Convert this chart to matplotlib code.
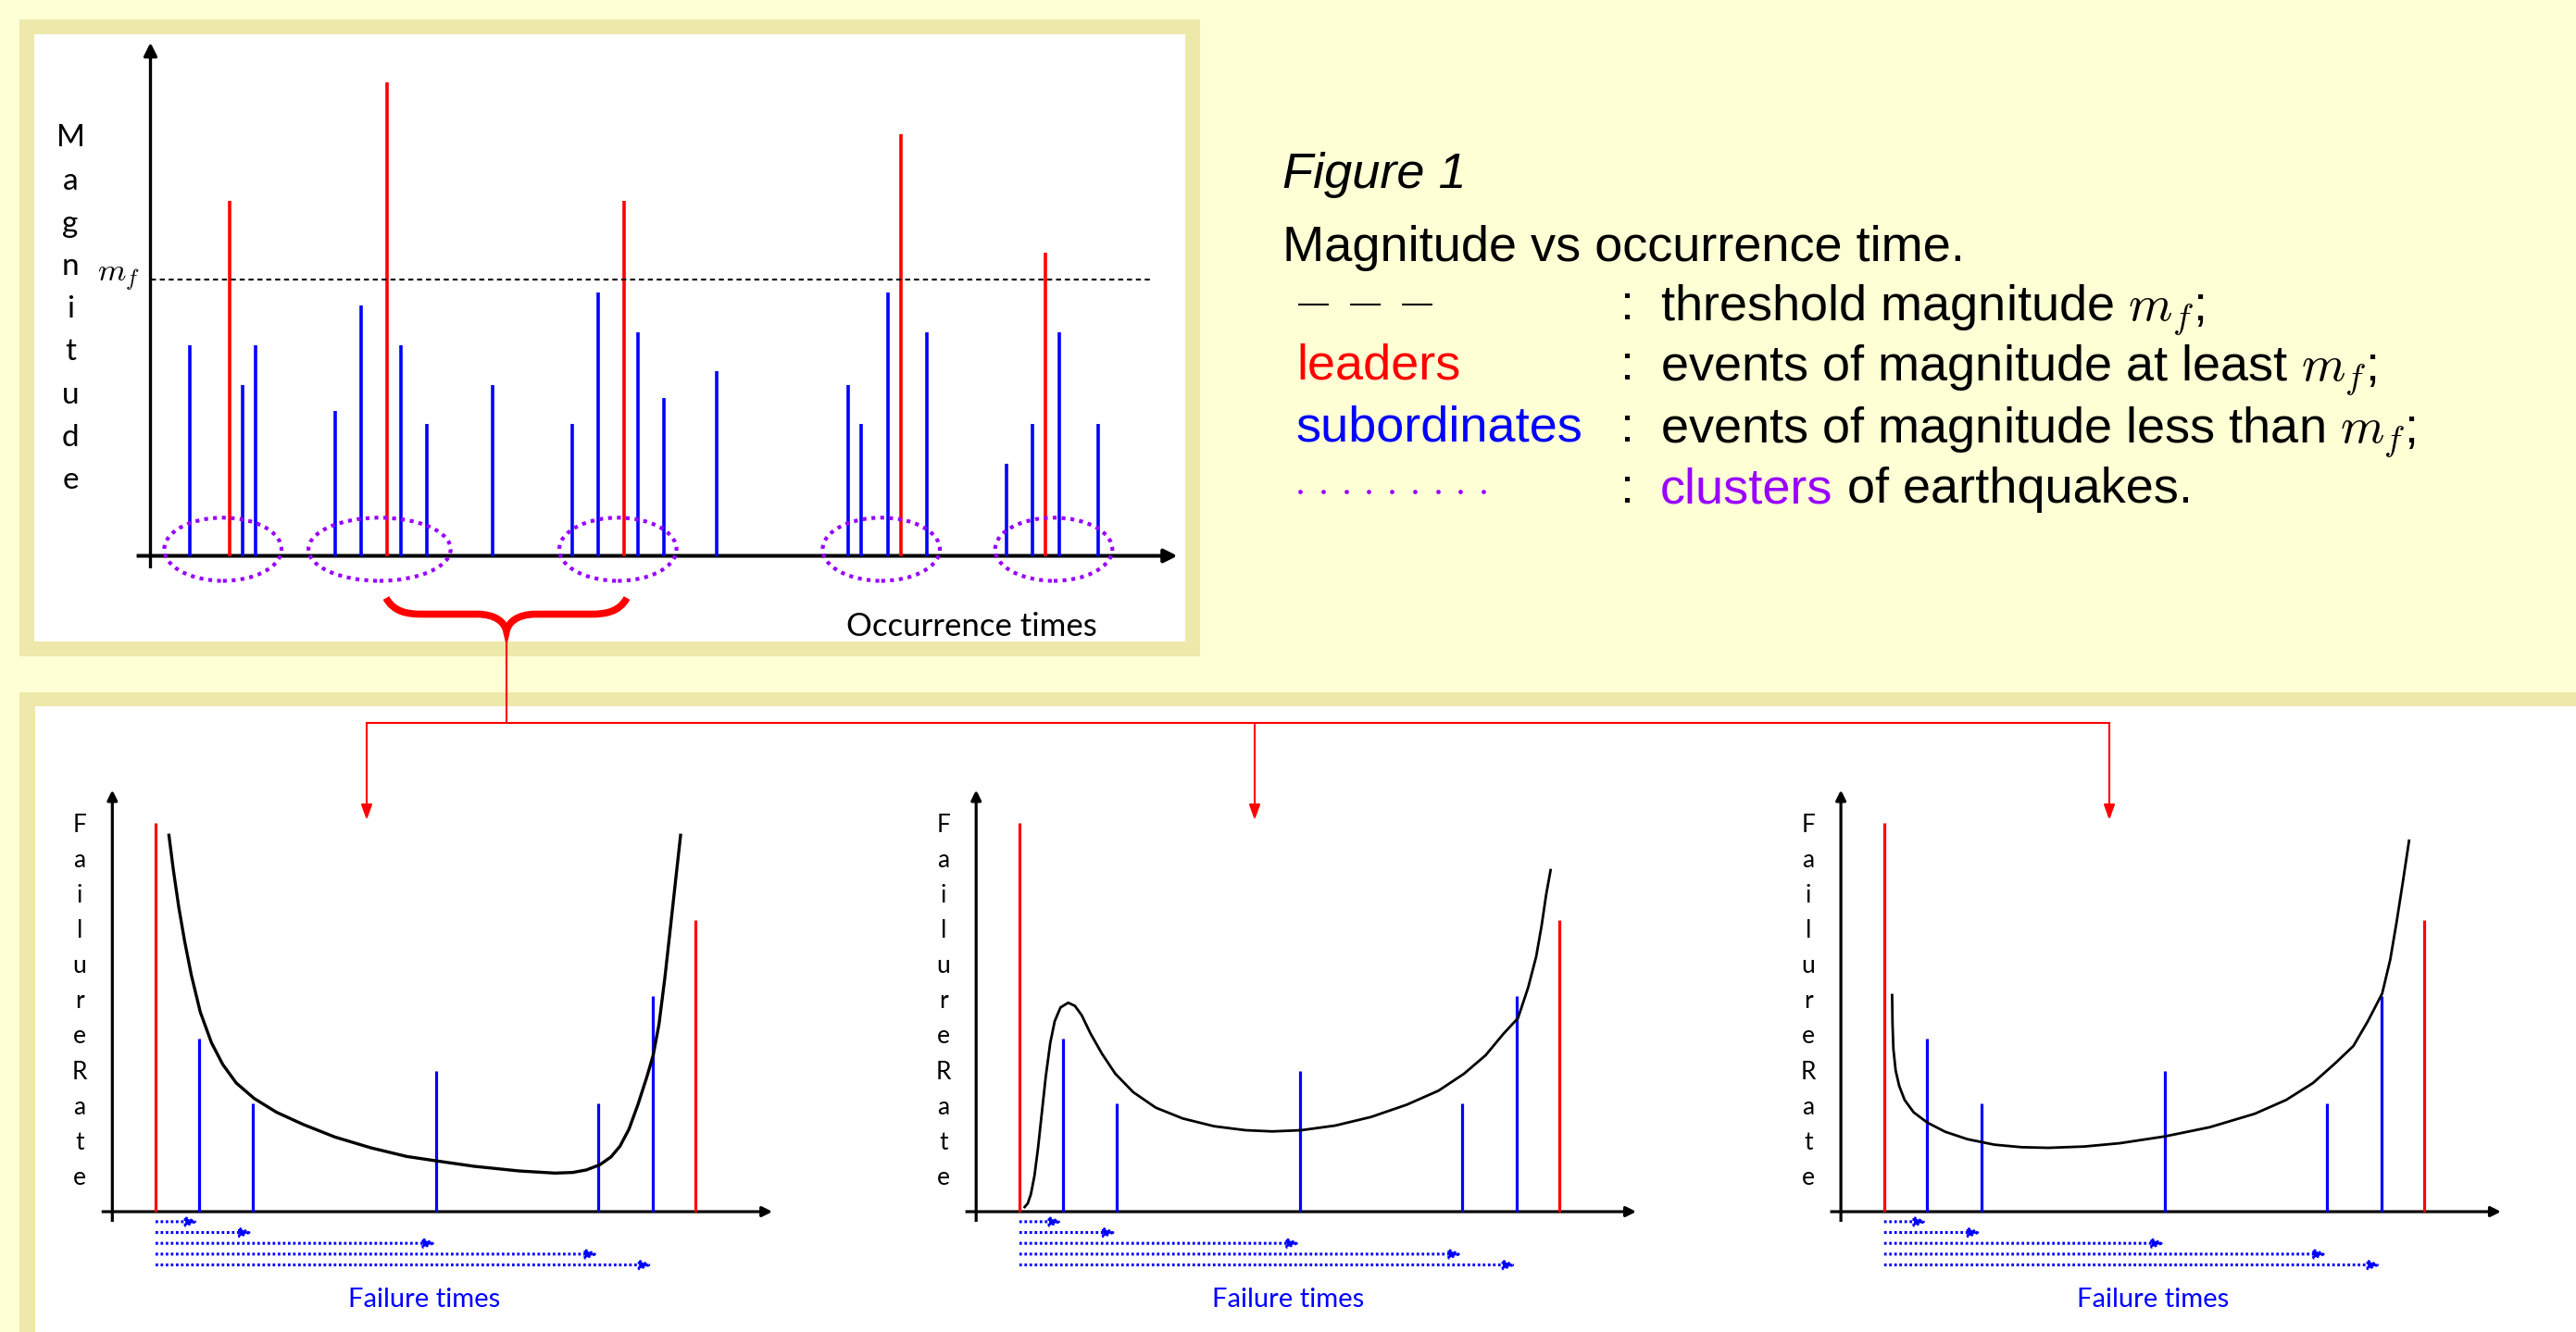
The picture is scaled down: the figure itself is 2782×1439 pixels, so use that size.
#!/usr/bin/env python
import numpy as np
import matplotlib.pyplot as plt
from matplotlib.patches import Rectangle, Ellipse, PathPatch, FancyArrowPatch
from matplotlib.path import Path

plt.rcParams['mathtext.fontset'] = 'cm'

W, H, DPI = 2782, 1439, 100

BG = '#ffffd5'
FRAME = '#eee8aa'
RED = '#ff0000'
BLUE = '#0000ff'
PURPLE = '#9900ff'
SANS = 'Liberation Sans'
CALIBRI = 'Lato'

# top chart: events on the occurrence time axis
occ_times = [3, 6, 7, 8, 14, 16, 18, 19, 21, 26, 32, 34, 36, 37, 39, 43,
             53, 54, 56, 57, 59, 65, 67, 68, 69, 72]
magnitudes = [16, 27, 13, 16, 11, 19, 36, 16, 10, 13, 10, 20, 27, 17, 12, 14,
              13, 10, 20, 32, 17, 7, 10, 23, 17, 10]
threshold = 21
cluster_centers = [5.5, 17.4, 35.5, 55.5, 68.6]
cluster_widths = [8.9, 10.8, 8.9, 8.9, 8.9]

# bottom charts: one cluster seen as a failure process
fail_times = [4, 8, 13, 30, 45, 50, 54]
fail_mags = [36, 16, 10, 13, 10, 20, 27]

# failure rate curves
rate1_t = [5.24, 5.65, 6.15, 6.69, 7.31, 8.14, 9.18, 10.22, 11.47, 13.13, 15.20,
           17.70, 20.60, 23.93, 27.25, 30.07, 33.48, 37.63, 40.95, 42.61, 43.86,
           45.11, 46.14, 46.98, 47.81, 48.64, 49.47, 50.05, 50.59, 51.13, 51.67,
           52.17, 52.59]
rate1_v = [34.85, 31.62, 28.19, 25.05, 21.91, 18.48, 15.63, 13.63, 11.91, 10.48, 9.20,
           8.06, 6.91, 5.91, 5.11, 4.69, 4.20, 3.77, 3.57, 3.63, 3.86,
           4.34, 5.06, 6.06, 7.63, 9.91, 12.48, 14.48, 17.34, 21.62, 26.48,
           31.05, 34.85]
rate2_t = [4.49, 4.78, 5.07, 5.40, 5.73, 6.07, 6.44, 6.86, 7.27, 7.81, 8.52, 9.14,
           9.76, 10.59, 11.64, 12.88, 14.54, 16.62, 19.11, 22.01, 24.93, 27.41,
           30.08, 33.23, 36.56, 39.87, 42.79, 45.15, 47.15, 48.81, 50.14, 51.09,
           51.83, 52.33, 52.75, 53.16]
rate2_v = [0.43, 0.77, 1.63, 3.34, 5.91, 9.06, 12.48, 15.63, 17.63, 18.91, 19.34, 19.05,
           18.20, 16.48, 14.63, 12.77, 11.06, 9.63, 8.63, 7.91, 7.54, 7.43,
           7.54, 7.97, 8.77, 9.91, 11.20, 12.77, 14.48, 16.48, 17.91, 20.77,
           23.62, 26.48, 29.34, 31.62]
rate3_t = [4.74, 4.78, 4.86, 5.07, 5.40, 5.90, 6.73, 7.98, 9.64, 11.71, 14.21, 16.70,
           19.19, 22.51, 25.84, 29.99, 34.14, 38.29, 41.20, 43.69, 45.78, 47.43,
           48.76, 50.09, 50.84, 51.42, 52.00, 52.58]
rate3_v = [20.05, 17.34, 15.05, 13.05, 11.63, 10.34, 9.20, 8.26, 7.40, 6.71, 6.20, 5.97,
           5.91, 6.03, 6.34, 6.97, 7.82, 9.06, 10.34, 11.91, 13.77, 15.34,
           17.62, 20.19, 23.34, 26.77, 30.48, 34.34]


def px_axes(fig, left, top, right, bottom):
    ax = fig.add_axes([left / W, 1 - bottom / H, (right - left) / W, (bottom - top) / H])
    ax.set_axis_off()
    ax.patch.set_alpha(0)
    return ax


def arrow(ax, p0, p1, color='black', lw=2.2, hl=8.6, hw=4.3, ls='-'):
    ax.add_patch(FancyArrowPatch(p0, p1, arrowstyle=f'-|>,head_length={hl},head_width={hw}',
                                 mutation_scale=1, color=color, lw=lw, linestyle=ls,
                                 shrinkA=0, shrinkB=0, clip_on=False, capstyle='butt'))


fig = plt.figure(figsize=(W / DPI, H / DPI), dpi=DPI, facecolor=BG)

# page background, panels, brace and connector in pixel units
canvas = fig.add_axes([0, 0, 1, 1])
canvas.set_xlim(0, W)
canvas.set_ylim(H, 0)
canvas.set_axis_off()
canvas.patch.set_alpha(0)
canvas.add_patch(Rectangle((21, 21), 1275, 688, fc=FRAME, ec='none'))
canvas.add_patch(Rectangle((37, 37), 1243, 656, fc='white', ec='none'))
canvas.add_patch(Rectangle((21, 748), W, H, fc=FRAME, ec='none'))
canvas.add_patch(Rectangle((37.6, 763), W, H, fc='white', ec='none'))

brace = [(417, 646), (425, 661), (440, 663.5), (455, 663.5), (515, 663.5),
         (535, 663.5), (545, 672), (547, 682),
         (549, 672), (559, 663.5), (579, 663.5), (639, 663.5),
         (654, 663.5), (669, 661), (677, 646)]
codes = [Path.MOVETO, Path.CURVE4, Path.CURVE4, Path.CURVE4, Path.LINETO,
         Path.CURVE4, Path.CURVE4, Path.CURVE4,
         Path.CURVE4, Path.CURVE4, Path.CURVE4, Path.LINETO,
         Path.CURVE4, Path.CURVE4, Path.CURVE4]
canvas.add_patch(PathPatch(Path(brace, codes), fill=False, ec=RED, lw=5.5,
                           capstyle='butt', joinstyle='miter'))
canvas.plot([547, 547], [682, 780.6], color=RED, lw=1.5)
canvas.plot([396, 2278], [780.6, 780.6], color=RED, lw=1.5)
for x in [396, 1355, 2278]:
    arrow(canvas, (x, 780.6), (x, 886), color=RED, lw=1.5, hl=10, hw=3.6)

# legend text on the right
canvas.text(1385, 203, 'Figure 1', family=SANS, style='italic', size=39, va='baseline')
canvas.text(1385, 282, 'Magnitude vs occurrence time.', family=SANS, size=39, va='baseline')
canvas.plot([1402, 1547], [329, 329], color='black', lw=1.5,
            ls=(0, (33 / 2.08, 23 / 2.08)), solid_capstyle='butt', dash_capstyle='butt')
canvas.text(1400, 410, 'leaders', family=SANS, size=39, va='baseline', color=RED)
canvas.text(1400, 476.7, 'subordinates', family=SANS, size=39, va='baseline', color=BLUE)
canvas.plot(np.linspace(1404, 1602, 9), [531] * 9, 'o', color=PURPLE, ms=3.4, mec='none')
rows = [345, 410, 476.7, 543.3]
for y in rows:
    canvas.text(1750, y, ':', family=SANS, size=39, va='baseline')
canvas.text(1793, rows[0], 'threshold magnitude $m_f$;', family=SANS, size=39, va='baseline')
canvas.text(1793, rows[1], 'events of magnitude at least $m_f$;', family=SANS, size=39, va='baseline')
canvas.text(1793, rows[2], 'events of magnitude less than $m_f$;', family=SANS, size=39, va='baseline')
clus = canvas.text(1793, rows[3], 'clusters', family=SANS, size=39, va='baseline', color=PURPLE)
canvas.annotate(' of earthquakes.', xy=(1, 0), xycoords=clus, family=SANS, size=39,
                va='bottom', ha='left')

# top chart: magnitude vs occurrence time
X0, Y0, S = 162.5, 600.5, 14.22
ax = px_axes(fig, 37, 37, 1280, 693)
ax.set_xlim((37 - X0) / S, (1280 - X0) / S)
ax.set_ylim((Y0 - 693) / S, (Y0 - 37) / S)
colors = [RED if m >= threshold else BLUE for m in magnitudes]
ax.vlines(occ_times, 0, magnitudes, colors=colors, lw=2.6)
ax.plot([0, 76.0], [threshold, threshold], color='black', lw=1.5, ls=(0, (2.6, 2.0)))
for c, w in zip(cluster_centers, cluster_widths):
    ax.add_patch(Ellipse((c, 0.5), w, 4.8, fill=False, ec=PURPLE, lw=3.0,
                         ls=(0, (1.0, 1.3)), zorder=3))
arrow(ax, (-1.05, 0), (78.0, 0), lw=2.9, hl=8.6, hw=4.3)
arrow(ax, (0, -0.95), (0, 39.0), lw=2.4, hl=8.6, hw=4.3)
ax.text(-0.85, threshold + 0.15, '$m_f$', size=25, ha='right', va='center')
for k, ch in enumerate('Magnitude'):
    ax.text(-6.08, 31.09 - 3.25 * k, ch, family=CALIBRI, size=24, ha='center', va='baseline')
ax.text(62.4, -6.05, 'Occurrence times', family=CALIBRI, size=25, ha='center', va='baseline')

# bottom charts: failure rate vs failure time
X2 = [121.3, 1054.2, 1988.1]
Y2, S2 = 1309, 11.67
curves = [(rate1_t, rate1_v, 2.4), (rate2_t, rate2_v, 2.0), (rate3_t, rate3_v, 2.0)]
fail_colors = [RED if m >= threshold else BLUE for m in fail_mags]
for xa, (ct, cv, clw) in zip(X2, curves):
    ax = px_axes(fig, xa - 84, 763, xa - 84 + 933.4, H)
    ax.set_xlim(-84 / S2, (933.4 - 84) / S2)
    ax.set_ylim((Y2 - H) / S2, (Y2 - 763) / S2)
    ax.vlines(fail_times, 0, fail_mags, colors=fail_colors, lw=2.3)
    ax.plot(ct, cv, color='black', lw=clw, solid_joinstyle='round')
    arrow(ax, (-0.99, 0), (61.1, 0), lw=2.3, hl=6.5, hw=3.2)
    arrow(ax, (0, -0.94), (0, 39.05), lw=2.3, hl=6.5, hw=3.2)
    for k, t in enumerate(fail_times[1:-1]):
        arrow(ax, (fail_times[0], -0.93 - k), (t, -0.93 - k), color=BLUE, lw=2.2,
              hl=7.5, hw=3.0, ls=(0, (0.9, 0.9)))
    for k, ch in enumerate('FailureRate'):
        ax.text(-3.02, 35.15 - 3.265 * k, ch, family=CALIBRI, size=19,
                ha='center', va='baseline')
    ax.text(28.85, -8.83, 'Failure times', family=CALIBRI, size=21, color=BLUE,
            ha='center', va='baseline')

fig.savefig('out.png', dpi=DPI, facecolor=BG)
